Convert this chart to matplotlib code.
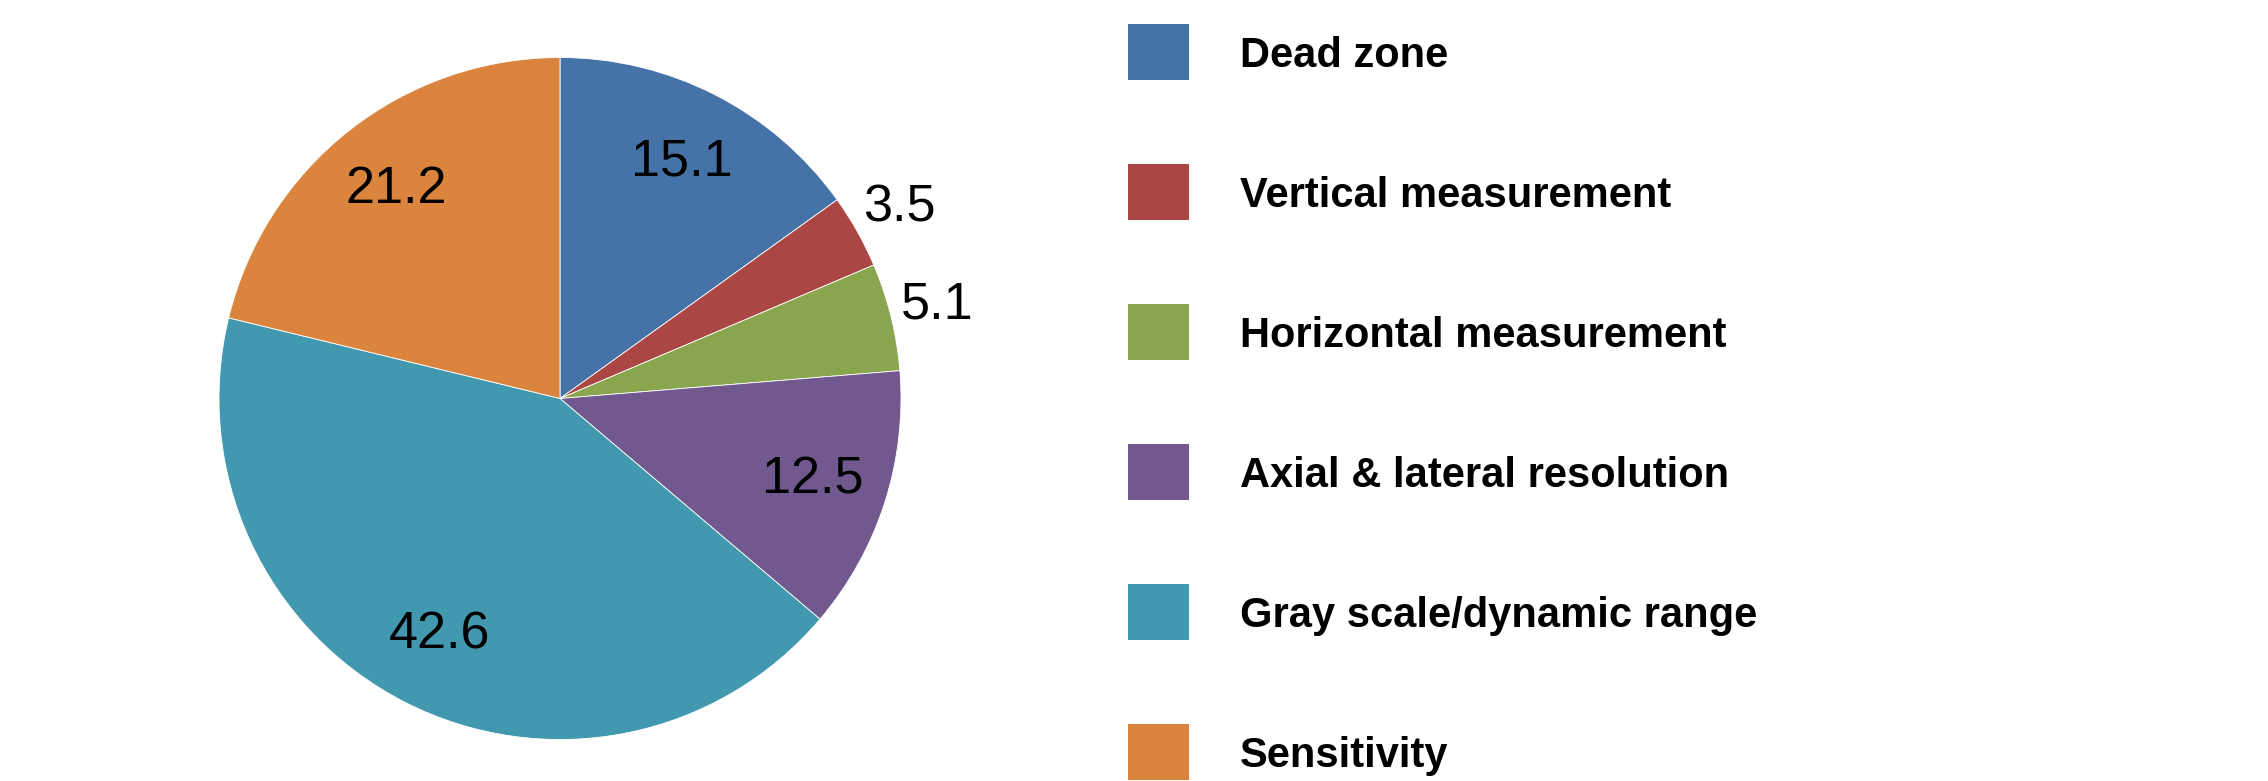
import numpy as np
import matplotlib
matplotlib.use("Agg")
import matplotlib.pyplot as plt
from matplotlib.patches import Rectangle

categories = ["Dead zone", "Vertical measurement", "Horizontal measurement",
              "Axial & lateral resolution", "Gray scale/dynamic range", "Sensitivity"]
values = [15.1, 3.5, 5.1, 12.5, 42.6, 21.2]
value_labels = ["15.1", "3.5", "5.1", "12.5", "42.6", "21.2"]
colors = ["#4572A7", "#AA4643", "#89A54E", "#71588F", "#4198AF", "#DB843D"]

plt.rcParams['font.family'] = ['Liberation Sans', 'DejaVu Sans']

W, H = 2268, 781
fig = plt.figure(figsize=(W / 100, H / 100), dpi=100)

# pie placed by pixel centre and radius
cx, cy, r = 560, 398.5, 341
ax = fig.add_axes([(cx - r) / W, (H - cy - r) / H, 2 * r / W, 2 * r / H])
wedges, _ = ax.pie(values, colors=colors, startangle=90, counterclock=False,
                   radius=1.0, wedgeprops=dict(linewidth=0.6, edgecolor="white"))
ax.set_xlim(-1, 1)
ax.set_ylim(-1, 1)
ax.set_aspect("equal")

# value labels: inside for large slices, just outside for the thin ones
for w, lab, v in zip(wedges, value_labels, values):
    mid = np.deg2rad((w.theta1 + w.theta2) / 2)
    dist = 0.78 if v > 10 else 1.14
    ax.text(dist * np.cos(mid), dist * np.sin(mid), lab, ha="center", va="center",
            fontsize=37.5, color="black", clip_on=False)

# legend drawn in pixel space
lax = fig.add_axes([0, 0, 1, 1])
lax.set_xlim(0, W)
lax.set_ylim(H, 0)
lax.axis("off")
y0, step = 52, 140
for i, (name, c) in enumerate(zip(categories, colors)):
    y = y0 + i * step
    lax.add_patch(Rectangle((1128, y - 28), 61, 56, facecolor=c, edgecolor="none"))
    lax.text(1240, y + 15, name, ha="left", va="baseline", fontsize=30,
             fontweight="bold", color="black")

fig.savefig("out.png", dpi=100)
